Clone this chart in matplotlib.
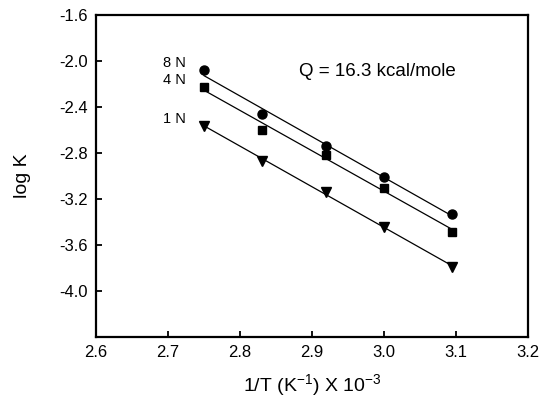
import numpy as np
import matplotlib.pyplot as plt

plt.rcParams["font.family"] = ["Liberation Sans", "DejaVu Sans"]

# Data (1/T in 1e-3 K^-1, log K)
inv_t = [2.75, 2.83, 2.92, 3.00, 3.095]
logk_8n = [-2.082, -2.463, -2.740, -3.011, -3.332]
logk_4n = [-2.226, -2.602, -2.821, -3.104, -3.485]
logk_1n = [-2.561, -2.867, -3.138, -3.447, -3.790]

series_names = ["8 N", "4 N", "1 N"]
series_values = [logk_8n, logk_4n, logk_1n]
series_markers = ["o", "s", "v"]
marker_sizes = [6.5, 5.5, 7.5]

x_ticks = [2.6, 2.7, 2.8, 2.9, 3.0, 3.1, 3.2]
y_ticks = [-4.0, -3.6, -3.2, -2.8, -2.4, -2.0, -1.6]


def main():
    fig = plt.figure(figsize=(5.53, 4.04), dpi=100)
    ax = fig.add_axes([0.1736, 0.1658, 0.7812, 0.7971])

    x = np.array(inv_t)
    for name, vals, mk, ms in zip(series_names, series_values, series_markers, marker_sizes):
        y = np.array(vals)
        # least squares line through each set
        slope, icpt = np.polyfit(x, y, 1)
        xf = np.array([x.min(), x.max()])
        ax.plot(xf, slope * xf + icpt, color="black", lw=0.9)
        ax.plot(x, y, linestyle="none", marker=mk, color="black", ms=ms)
        ax.annotate(name, xy=(x[0], y[0]), xytext=(-13, 5), textcoords="offset points",
                    ha="right", va="center", fontsize=10.5)

    ax.text(0.47, 0.826, "Q = 16.3 kcal/mole", transform=ax.transAxes,
            fontsize=13.5, ha="left", va="center")

    ax.set_xlim(2.6, 3.2)
    ax.set_ylim(-4.4, -1.6)
    ax.set_xticks(x_ticks)
    ax.set_yticks(y_ticks)
    ax.set_xticklabels([f"{v:.1f}" for v in x_ticks])
    ax.set_yticklabels([f"{v:.1f}" for v in y_ticks])
    ax.tick_params(direction="in", length=4, width=1.3, labelsize=12)
    ax.tick_params(axis="x", pad=6)
    ax.tick_params(axis="y", pad=6)
    for sp in ax.spines.values():
        sp.set_linewidth(1.6)

    ax.set_xlabel("1/T (K$^{\\mathregular{-1}}$) X 10$^{\\mathregular{-3}}$", fontsize=14, labelpad=9)
    ax.set_ylabel("log K", fontsize=14, labelpad=20)

    fig.savefig("out.png", dpi=100)


if __name__ == "__main__":
    main()
